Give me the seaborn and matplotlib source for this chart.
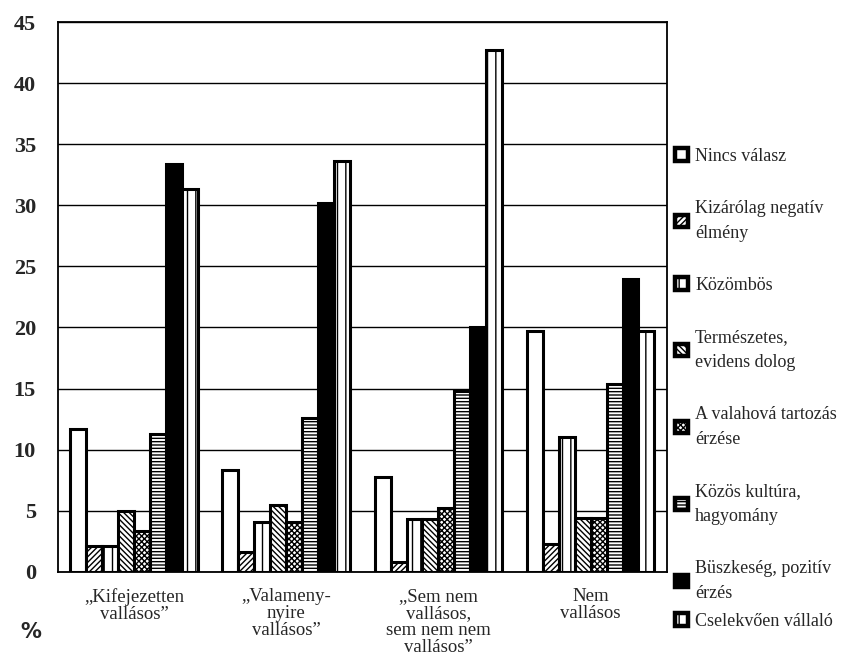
import matplotlib
matplotlib.use("Agg")
import matplotlib.pyplot as plt
import matplotlib.patches as mpatches
import numpy as np
import pandas as pd
import seaborn as sns

# groups on the x axis
categories = [
    "„Kifejezetten\nvallásos”",
    "„Valameny-\nnyire\nvallásos”",
    "„Sem nem\nvallásos,\nsem nem nem\nvallásos”",
    "Nem\nvallásos",
]
answers = [
    "Nincs válasz",
    "Kizárólag negatív\nélmény",
    "Közömbös",
    "Természetes,\nevidens dolog",
    "A valahová tartozás\nérzése",
    "Közös kultúra,\nhagyomány",
    "Büszkeség, pozitív\nérzés",
    "Cselekvően vállaló",
]

# percentages, one list per answer (order = categories)
nincs_valasz = [11.7, 8.3, 7.8, 19.7]
negativ = [2.1, 1.6, 0.8, 2.3]
kozombos = [2.1, 4.1, 4.3, 11.0]
termeszetes = [5.0, 5.5, 4.3, 4.4]
valahova = [3.3, 4.1, 5.2, 4.4]
kultura = [11.3, 12.6, 14.8, 15.4]
buszkeseg = [33.4, 30.2, 20.0, 24.0]
cselekvo = [31.3, 33.6, 42.7, 19.7]

series = [nincs_valasz, negativ, kozombos, termeszetes,
          valahova, kultura, buszkeseg, cselekvo]
hatches = ["", "//////", "||", "\\\\\\\\\\\\", "xxxxxx", "-----", "", "||"]
fills = ["white"] * 6 + ["black", "white"]

rows = []
for ans, vals in zip(answers, series):
    for cat, v in zip(categories, vals):
        rows.append({"csoport": cat, "valasz": ans, "szazalek": v})
df = pd.DataFrame(rows)

sns.set_style("white")
plt.rcParams["font.family"] = ["Liberation Serif", "DejaVu Serif"]
plt.rcParams["hatch.linewidth"] = 1.0
plt.rcParams["hatch.color"] = "black"

fig = plt.figure(figsize=(8.68, 6.68), dpi=100)
ax = fig.add_axes([0.067, 0.144, 0.701, 0.823])

sns.barplot(data=df, x="csoport", y="szazalek", hue="valasz",
            order=categories, hue_order=answers,
            palette=dict(zip(answers, fills)), saturation=1,
            width=0.84, gap=0, edgecolor="black", linewidth=2.2,
            legend=False, ax=ax, zorder=3)

for cont, h, fc in zip(ax.containers, hatches, fills):
    for bar in cont:
        bar.set_hatch(h)
        bar.set_facecolor(fc)
        bar.set_edgecolor("black")

ax.set_ylim(0, 45)
ax.set_xlim(-0.5, 3.5)
ax.set_yticks(np.arange(0, 46, 5))
ax.yaxis.grid(True, color="black", linewidth=1.0)
ax.set_axisbelow(True)
for s in ax.spines.values():
    s.set_visible(True)
    s.set_color("black")
    s.set_linewidth(1.3)

ax.set_xlabel("")
ax.set_ylabel("")
ax.tick_params(axis="y", direction="out", length=8, width=1, pad=8,
               labelsize=16, color="black")
for t in ax.get_yticklabels():
    t.set_fontweight("bold")
ax.set_xticks(range(len(categories)))
ax.set_xticklabels(categories, fontsize=13.5, linespacing=1.0)
ax.tick_params(axis="x", which="major", length=0, pad=12)
ax.set_xticks([0.5, 1.5, 2.5], minor=True)
ax.tick_params(axis="x", which="minor", direction="inout", length=8,
               width=1, color="black")

handles = [mpatches.Patch(facecolor=fc, edgecolor="black", hatch=h,
                          linewidth=3.2)
           for h, fc in zip(hatches, fills)]
leg_kw = dict(loc="upper left", frameon=False, fontsize=13,
              handlelength=0.7, handleheight=0.7, handletextpad=0.4,
              labelspacing=1.95, borderaxespad=0, borderpad=0)
leg1 = fig.legend(handles[:7], answers[:7],
                  bbox_to_anchor=(0.778, 0.779), **leg_kw)
for t in leg1.get_texts():
    t.set_linespacing(1.6)
leg2 = fig.legend(handles[7:], answers[7:],
                  bbox_to_anchor=(0.778, 0.083), **leg_kw)

fig.text(0.035, 0.054, "%", fontsize=15, fontweight="bold",
         family="DejaVu Sans", ha="center", va="center")

fig.savefig("out.png", dpi=100)
